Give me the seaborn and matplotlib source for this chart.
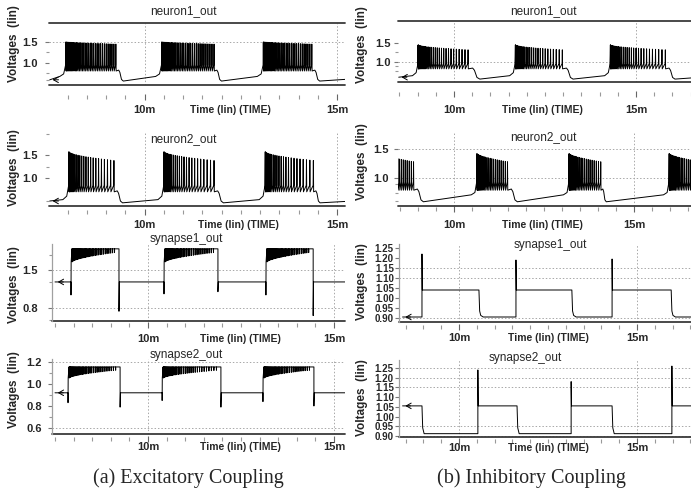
import numpy as np
import seaborn as sns
import matplotlib.pyplot as plt
from matplotlib.ticker import MultipleLocator, FixedLocator

W, H = 691, 494

# ---------- values (time in ms, voltage in V) ----------
# (a) excitatory coupling
exc_n1_on = [7.95, 10.44, 13.08]
exc_n1_last = [9.25, 11.80, 14.34]
exc_n1_end = [9.45, 12.00, 14.55]
exc_n1_spikes = [34, 34, 33]
exc_n1_peak = [1.50, 1.45]
exc_n1_trough = 0.83
exc_n1_rest = [0.57, 0.68]
exc_n1_edges = [0.60, 0.61]

exc_n2_on = [8.03, 10.50, 13.13]
exc_n2_last = [9.20, 11.80, 14.38]
exc_n2_end = [9.43, 12.05, 14.56]
exc_n2_spikes = [24, 25, 24]
exc_n2_peak = [1.57, 1.38]
exc_n2_trough = 0.72
exc_n2_rest = [0.46, 0.53]
exc_n2_edges = [0.50, 0.49]

exc_s1_on = [7.93, 10.43, 13.17]
exc_s1_off = [9.22, 11.88, 14.44]
exc_s1_dip_on = [1.04, 1.06, 1.04]
exc_s1_dip_off = [0.74, 1.10, 0.66]
exc_s1_levels = [1.28, 1.89]
exc_s1_depth = [0.24, 0.07]
exc_s1_spikes = [36, 36, 36]

exc_s2_on = [7.85, 10.38, 13.09]
exc_s2_off = [9.25, 11.96, 14.46]
exc_s2_dip_on = [0.83, 0.85, 0.84]
exc_s2_dip_off = [0.79, 0.79, 0.80]
exc_s2_levels = [0.92, 1.155]
exc_s2_depth = [0.10, 0.03]
exc_s2_spikes = [34, 34, 34]

# (b) inhibitory coupling
inh_n1_on = [9.01, 11.68, 14.29]
inh_n1_last = [10.38, 12.97, 15.80]
inh_n1_end = [10.71, 13.27, 16.07]
inh_n1_spikes = [30, 28, 30]
inh_n1_peak = [1.45, 1.32]
inh_n1_trough = 0.84
inh_n1_rest = [0.55, 0.64]
inh_n1_edges = [0.60, 0.58]

inh_n2_on = [8.02, 10.63, 13.19, 15.97]
inh_n2_last = [8.87, 11.48, 14.07, 16.85]
inh_n2_end = [9.15, 11.76, 14.23, 17.10]
inh_n2_spikes = [22, 22, 22, 22]
inh_n2_peak = [1.42, 1.28]
inh_n2_trough = 0.81
inh_n2_rest = [0.59, 0.71]
inh_n2_edges = [None, None]

inh_s1_on = [8.96, 11.60, 14.30]
inh_s1_off = [10.56, 13.17, 15.96]
inh_s1_kick = [1.22, 1.19, 1.195]
inh_s1_levels = [0.905, 1.04]

inh_s2_down = [8.96, 11.63, 14.30]
inh_s2_up = [10.53, 13.15, 15.98]
inh_s2_kick = [1.24, 1.18, 1.26]
inh_s2_levels = [0.912, 1.055]


def neuron_points(xlim, on, last, end, nspk, peak, trough, rest, edges, power):
    t, v = [], []
    if edges[0] is not None:
        t.append(xlim[0] + 0.02)
        v.append(edges[0])
    for i in range(len(on)):
        if i > 0 or edges[0] is not None:
            t += [on[i] - 0.15, on[i] - 0.05]
            v += [rest[1], rest[1] + 0.4 * (trough - rest[1])]
        u = np.linspace(0, 1, nspk[i])
        ts = on[i] + (last[i] - on[i]) * u ** power
        pk = peak[0] + (peak[1] - peak[0]) * u
        for k in range(len(ts)):
            t += [ts[k], ts[k] + 0.006, ts[k] + 0.013]
            v += [trough + 0.12, pk[k], trough - 0.02]
        tp = last[i] + 0.4 * (end[i] - last[i])
        t += [tp, tp + 0.25 * (end[i] - tp), tp + 0.6 * (end[i] - tp), end[i]]
        v += [trough, trough - 0.2 * (trough - rest[0]),
              rest[0] + 0.15 * (trough - rest[0]), rest[0]]
    if edges[1] is not None:
        t.append(xlim[1])
        v.append(edges[1])
    return t, v


def exc_syn_points(xlim, on, off, dip_on, dip_off, levels, depth, nspk, power=1.6):
    base, top = levels
    t, v = [xlim[0] + 0.08], [base]
    for i in range(len(on)):
        t += [on[i], on[i], on[i] + 0.004]
        v += [base, dip_on[i], top - depth[0]]
        u = np.linspace(0, 1, nspk[i])
        ts = on[i] + 0.03 + (off[i] - 0.15 - on[i]) * u ** power
        d = depth[0] + (depth[1] - depth[0]) * u
        for k in range(len(ts)):
            t += [ts[k] - 0.003, ts[k], ts[k] + 0.003]
            v += [top, top - d[k], top]
        t += [off[i], off[i], off[i] + 0.01]
        v += [top, dip_off[i], base]
    t.append(xlim[1])
    v.append(base)
    return t, v


def inh_syn1_points(xlim, on, off, kick, levels):
    low, high = levels
    t, v = [xlim[0] + 0.1], [low]
    for i in range(len(on)):
        t += [on[i], on[i], on[i] + 0.01, off[i], off[i] + 0.02, off[i] + 0.05, off[i] + 0.12]
        v += [low, kick[i], high, high, low + 0.03, low + 0.008, low]
    t.append(xlim[1])
    v.append(low)
    return t, v


def inh_syn2_points(xlim, down, up, kick, levels):
    low, high = levels
    t, v = [xlim[0] + 0.1], [high]
    for i in range(len(down)):
        t += [down[i], down[i] + 0.02, down[i] + 0.06, up[i], up[i], up[i] + 0.01]
        v += [high, low + 0.03, low, low, kick[i], high]
    t.append(xlim[1])
    v.append(high)
    return t, v


# panel geometry in picture pixels
panels = {
    "exc_n1": dict(x0=49, x1=345, yt=23, yb=85, p10=144.5, p15=337, ycal=(1.5, 42, 1.0, 63),
                   row=97, lab=109, title=("neuron1_out", 183, 11), ylab=(14, 44), xlab=230,
                   top=True, frame=False, grid=[1.5], yt_major=[1.0, 1.5], yt_minor=[0.6, 0.75, 1.25],
                   ypad=7, fmt="%.1f"),
    "exc_n2": dict(x0=49, x1=345, yt=132, yb=206, p10=144.5, p15=337, ycal=(1.5, 155, 1.0, 178),
                   row=212, lab=224, title=("neuron2_out", 183, 139), ylab=(14, 168), xlab=238,
                   top=False, frame=False, grid=[], yt_major=[1.0, 1.5], yt_minor=[0.5, 1.25, 1.95],
                   ypad=7, fmt="%.1f"),
    "exc_s1": dict(x0=52, x1=345, yt=244, yb=321, p10=148, p15=334, ycal=(1.5, 270, 0.8, 308),
                   row=325, lab=338, title=("synapse1_out", 186, 239), ylab=(14, 285), xlab=240,
                   top=False, frame=True, grid=[1.5, 0.8], yt_major=[0.8, 1.5], yt_minor=[0.58, 1.28, 1.78],
                   ypad=10, fmt="%.1f"),
    "exc_s2": dict(x0=52, x1=345, yt=359, yb=434, p10=148, p15=334, ycal=(1.2, 362, 0.6, 428),
                   row=439, lab=446, title=("synapse2_out", 186, 355), ylab=(14, 390), xlab=240,
                   top=False, frame=True, grid=[1.2, 0.6], yt_major=[0.6, 0.8, 1.0, 1.2], yt_minor=[0.7, 0.9, 1.1],
                   ypad=6, fmt="%.1f"),
    "inh_n1": dict(x0=398, x1=691, yt=21, yb=82, p10=454, p15=636, ycal=(1.5, 43, 1.0, 62),
                   row=94, lab=109, title=("neuron1_out", 543, 11), ylab=(362, 45), xlab=542,
                   top=True, frame=False, grid=[1.0], yt_major=[1.0, 1.5], yt_minor=[0.75, 0.9, 1.25],
                   ypad=3, fmt="%.1f"),
    "inh_n2": dict(x0=398, x1=691, yt=132, yb=206, p10=454, p15=634, ycal=(1.5, 149, 1.0, 178),
                   row=209, lab=224, title=("neuron2_out", 543, 137), ylab=(362, 162), xlab=542,
                   top=False, frame=False, grid=[1.5, 1.0], yt_major=[1.0, 1.5], yt_minor=[0.6, 0.75, 0.9],
                   ypad=5, fmt="%.1f"),
    "inh_s1": dict(x0=399, x1=691, yt=244, yb=322, p10=459, p15=637, ycal=(1.25, 248, 0.90, 318),
                   row=327, lab=337, title=("synapse1_out", 550, 245), ylab=(362, 282), xlab=548,
                   top=False, frame=True, grid=[1.15, 1.10, 0.90],
                   yt_major=[0.90, 0.95, 1.00, 1.05, 1.10, 1.15, 1.20, 1.25], yt_minor=[],
                   ypad=1, fmt="%.2f"),
    "inh_s2": dict(x0=399, x1=691, yt=360, yb=437, p10=459, p15=637, ycal=(1.25, 368, 0.90, 436),
                   row=441, lab=447, title=("synapse2_out", 525, 358), ylab=(362, 398), xlab=548,
                   top=False, frame=True, grid=[1.25, 1.20, 1.15, 0.95, 0.90],
                   yt_major=[0.90, 0.95, 1.00, 1.05, 1.10, 1.15, 1.20, 1.25], yt_minor=[],
                   ypad=1, fmt="%.2f"),
}

sns.set_style("white")
plt.rcParams["font.family"] = ["Liberation Sans", "DejaVu Sans"]

fig = plt.figure(figsize=(W / 100, H / 100), dpi=100)


def limits(key):
    s = panels[key]
    ppm = (s["p15"] - s["p10"]) / 5.0
    xlim = (10 + (s["x0"] - s["p10"]) / ppm, 10 + (s["x1"] - s["p10"]) / ppm)
    v1, p1, v2, p2 = s["ycal"]
    ppu = (p2 - p1) / (v1 - v2)
    ylim = (v1 - (s["yb"] - p1) / ppu, v1 + (p1 - s["yt"]) / ppu)
    return xlim, ylim


def decorate(ax, key, xlim, ylim):
    s = panels[key]
    ax.set_xlim(xlim)
    ax.set_ylim(ylim)
    for side in ["top", "right", "bottom"]:
        ax.spines[side].set_visible(False)
    ax.spines["bottom"].set_position(("outward", (s["row"] - s["yb"]) * 0.72))
    if s["frame"]:
        ax.spines["left"].set_color("#a0a0a0")
        ax.spines["left"].set_linewidth(0.9)
    else:
        ax.spines["left"].set_visible(False)
    ax.axhline(ylim[0], color="#3a3a3a", lw=1.3, clip_on=False)
    if s["top"]:
        ax.axhline(ylim[1], color="#3a3a3a", lw=1.3, clip_on=False)
    for g in s["grid"]:
        ax.axhline(g, color="#a8a8a8", lw=0.7, ls=(0, (1.5, 2)), zorder=0)
    for g in [10, 15]:
        ax.axvline(g, color="#a8a8a8", lw=0.7, ls=(0, (1.5, 2)), zorder=0)

    ax.set_xticks([10, 15])
    ax.set_xticklabels(["10m", "15m"])
    ax.xaxis.set_minor_locator(MultipleLocator(0.5))
    xpad = max((s["lab"] - s["row"] - 7.5) * 0.72, -2)
    ax.tick_params(axis="x", which="major", bottom=True, direction="inout", length=5,
                   width=0.8, color="#666666", pad=xpad, labelsize=8)
    ax.tick_params(axis="x", which="minor", bottom=True, direction="inout", length=2.5,
                   width=0.8, color="#999999")
    ax.set_yticks(s["yt_major"])
    ax.set_yticklabels([s["fmt"] % y for y in s["yt_major"]])
    ax.yaxis.set_minor_locator(FixedLocator(s["yt_minor"]))
    ysize = 7 if s["fmt"] == "%.2f" else 8
    ax.tick_params(axis="y", which="major", left=True, direction="out", length=3,
                   width=0.8, color="#777777", pad=s["ypad"] * 0.72, labelsize=ysize)
    ax.tick_params(axis="y", which="minor", left=True, direction="out", length=2,
                   width=0.8, color="#999999")
    for lbl in ax.get_xticklabels() + ax.get_yticklabels():
        lbl.set_fontweight("bold")

    ax.set_xlabel("Time (lin) (TIME)", fontsize=7.5, fontweight="bold")
    ax.xaxis.set_label_coords((s["xlab"] - s["x0"]) / (s["x1"] - s["x0"]),
                              (s["yb"] - s["lab"] - 1) / (s["yb"] - s["yt"]))
    ax.xaxis.label.set_va("center")
    ax.set_ylabel("Voltages  (lin)", fontsize=8.5, fontweight="bold")
    ax.yaxis.set_label_coords((s["ylab"][0] - s["x0"]) / (s["x1"] - s["x0"]),
                              (s["yb"] - s["ylab"][1]) / (s["yb"] - s["yt"]))
    ax.yaxis.label.set_va("center")
    name, tx, ty = s["title"]
    fig.text(tx / W, 1 - ty / H, name, ha="center", va="center", fontsize=8.5)


def draw(key, builder, arrow=True):
    s = panels[key]
    xlim, ylim = limits(key)
    t, v = builder(xlim)
    ax = fig.add_axes([s["x0"] / W, 1 - s["yb"] / H, (s["x1"] - s["x0"]) / W, (s["yb"] - s["yt"]) / H])
    sns.lineplot(x=t, y=v, ax=ax, color="black", linewidth=0.7, sort=False, estimator=None)
    if arrow:
        ax.annotate("", xy=(t[0], v[0]), xytext=(t[0] + 0.3, v[0]),
                    arrowprops=dict(arrowstyle="->,head_length=0.35,head_width=0.2",
                                    color="black", lw=0.7))
    decorate(ax, key, xlim, ylim)


draw("exc_n1", lambda xl: neuron_points(xl, exc_n1_on, exc_n1_last, exc_n1_end, exc_n1_spikes,
                                        exc_n1_peak, exc_n1_trough, exc_n1_rest, exc_n1_edges, 1.3))
draw("exc_n2", lambda xl: neuron_points(xl, exc_n2_on, exc_n2_last, exc_n2_end, exc_n2_spikes,
                                        exc_n2_peak, exc_n2_trough, exc_n2_rest, exc_n2_edges, 1.7))
draw("exc_s1", lambda xl: exc_syn_points(xl, exc_s1_on, exc_s1_off, exc_s1_dip_on, exc_s1_dip_off,
                                         exc_s1_levels, exc_s1_depth, exc_s1_spikes))
draw("exc_s2", lambda xl: exc_syn_points(xl, exc_s2_on, exc_s2_off, exc_s2_dip_on, exc_s2_dip_off,
                                         exc_s2_levels, exc_s2_depth, exc_s2_spikes))
draw("inh_n1", lambda xl: neuron_points(xl, inh_n1_on, inh_n1_last, inh_n1_end, inh_n1_spikes,
                                        inh_n1_peak, inh_n1_trough, inh_n1_rest, inh_n1_edges, 1.8))
draw("inh_n2", lambda xl: neuron_points(xl, inh_n2_on, inh_n2_last, inh_n2_end, inh_n2_spikes,
                                        inh_n2_peak, inh_n2_trough, inh_n2_rest, inh_n2_edges, 1.5),
     arrow=False)
draw("inh_s1", lambda xl: inh_syn1_points(xl, inh_s1_on, inh_s1_off, inh_s1_kick, inh_s1_levels))
draw("inh_s2", lambda xl: inh_syn2_points(xl, inh_s2_down, inh_s2_up, inh_s2_kick, inh_s2_levels))

fig.text(188 / W, 1 - 478 / H, "(a) Excitatory Coupling", family="Liberation Serif",
         fontsize=14.5, ha="center", va="center")
fig.text(531 / W, 1 - 478 / H, "(b) Inhibitory Coupling", family="Liberation Serif",
         fontsize=14.5, ha="center", va="center")

fig.savefig("out.png", dpi=100)
